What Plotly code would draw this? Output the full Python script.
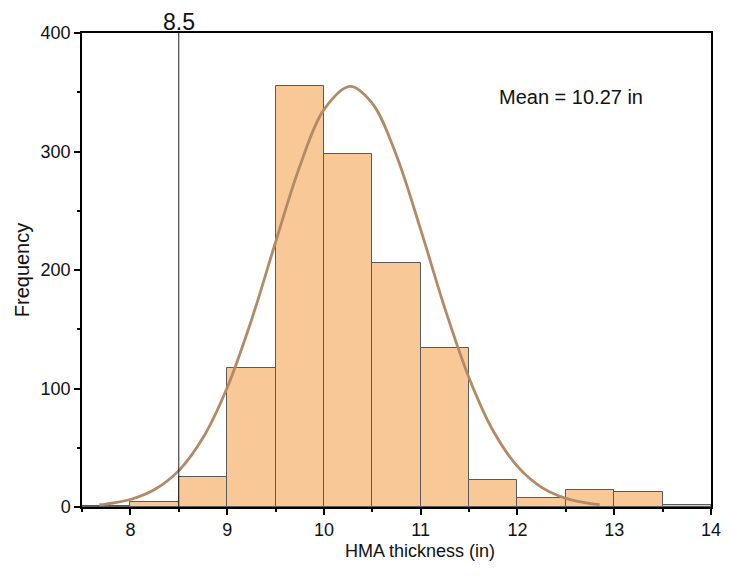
import plotly.graph_objects as go

# Histogram bins (left edges, width 0.5) and counts
bin_left = [7.5, 8.0, 8.5, 9.0, 9.5, 10.0, 10.5, 11.0, 11.5, 12.0, 12.5, 13.0, 13.5]
counts = [1, 4, 25, 117, 355, 298, 206, 134, 23, 8, 14, 13, 2]
bin_width = 0.5

# Fitted normal curve
curve_x = [7.68, 7.75, 8.0, 8.25, 8.5, 8.75, 9.0, 9.25, 9.5, 9.75, 10.0, 10.27,
           10.5, 10.75, 11.0, 11.25, 11.5, 11.75, 12.0, 12.25, 12.5, 12.75, 12.85]
curve_y = [1.9, 2.5, 6.3, 14.7, 30.7, 58.4, 100.7, 157.5, 223.4, 287.4, 335.3, 355,
           340.6, 296.5, 234.1, 167.6, 108.9, 64.1, 34.3, 16.6, 7.3, 2.9, 2.0]

ref_line_x = 8.5
mean_text = "Mean = 10.27 in"
x_title = "HMA thickness (in)"
x_ticks = [8, 9, 10, 11, 12, 13, 14]
y_ticks = [0, 100, 200, 300, 400]

font = "Liberation Sans, Arial, sans-serif"

fig = go.Figure()
fig.add_trace(go.Bar(
    x=[b + bin_width / 2 for b in bin_left], y=counts, width=bin_width,
    marker=dict(color="#F9C897", line=dict(color="#5a5a5a", width=1)),
    showlegend=False,
))
fig.add_trace(go.Scatter(
    x=curve_x, y=curve_y, mode="lines",
    line=dict(color="#B38A66", width=2.8, shape="spline"),
    showlegend=False,
))

fig.add_shape(type="line", x0=ref_line_x, x1=ref_line_x, y0=0, y1=1, yref="paper",
              line=dict(color="#222222", width=1))
fig.add_annotation(x=ref_line_x, y=1, yref="paper", text="8.5", showarrow=False,
                   yanchor="bottom", yshift=-4, font=dict(family=font, size=23, color="#111"))
fig.add_annotation(x=11.79, y=346, text=mean_text, showarrow=False, xanchor="left",
                   font=dict(family=font, size=20, color="#111"))
fig.add_annotation(x=0.537, xref="paper", y=0, yref="paper", text=x_title, showarrow=False,
                   yanchor="middle", yshift=-44, font=dict(family=font, size=18, color="#111"))

axis_common = dict(showline=True, linecolor="black", linewidth=1.5, mirror=True,
                   ticks="outside", ticklen=6, tickwidth=1.5, tickcolor="black",
                   showgrid=False, zeroline=False,
                   tickfont=dict(family=font, size=18, color="#111"))

fig.update_xaxes(range=[7.5, 14], tickvals=x_ticks,
                 minor=dict(ticks="outside", ticklen=3, tickwidth=1.5, tickcolor="black", dtick=0.5),
                 **axis_common)
fig.update_yaxes(range=[0, 400], tickvals=y_ticks,
                 minor=dict(ticks="outside", ticklen=3, tickwidth=1.5, tickcolor="black", dtick=50),
                 title=dict(text="Frequency", font=dict(family=font, size=20, color="#111"), standoff=6),
                 **axis_common)

fig.update_layout(width=731, height=577, margin=dict(l=82, r=10, t=33, b=70),
                  plot_bgcolor="white", paper_bgcolor="white", bargap=0)

fig.write_html("out.html")
